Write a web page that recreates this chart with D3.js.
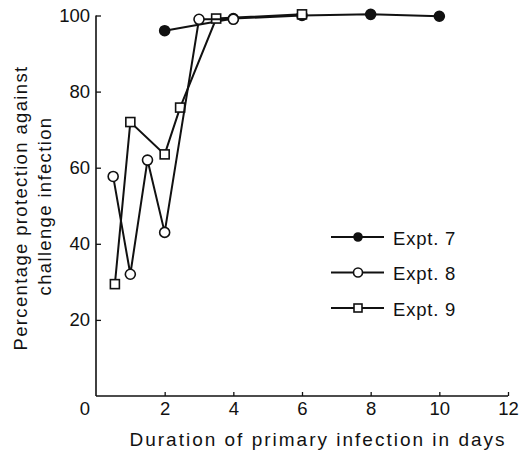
<!DOCTYPE html>
<html>
<head>
<meta charset="utf-8">
<script src="https://cdn.jsdelivr.net/npm/d3@7"></script>
<style>
  body { margin: 0; background: #fff; }
  text { font-family: "Liberation Sans", Arial, sans-serif; fill: #111; }
</style>
</head>
<body>
<div id="chart"></div>
<script>
const width = 519;
const height = 452;

// data
const expt7_days = [2, 4, 6, 8, 10];
const expt7_pct = [96, 99.2, 100, 100.3, 99.8];
const expt8_days = [0.5, 1, 1.5, 2, 3, 4];
const expt8_pct = [57.7, 32, 62, 43, 99, 99];
const expt9_days = [0.55, 1, 2, 2.45, 3.5, 6];
const expt9_pct = [29.4, 72, 63.5, 75.8, 99.2, 100.3];

const x_ticks = [2, 4, 6, 8, 10, 12];
const y_ticks = [20, 40, 60, 80, 100];
const legend_labels = ["Expt. 7", "Expt. 8", "Expt. 9"];

const svg = d3.select("#chart")
    .append("svg")
    .attr("width", width)
    .attr("height", height);

const x = d3.scaleLinear().domain([0, 12]).range([96, 508]);
const y = d3.scaleLinear().domain([0, 100]).range([396, 15.5]);

// axes - ticks point inward
const xAxis = svg.append("g")
    .attr("transform", `translate(0,${y(0)})`)
    .call(d3.axisBottom(x).tickValues(x_ticks).tickSize(-4).tickSizeOuter(0).tickPadding(6));
const yAxis = svg.append("g")
    .attr("transform", `translate(${x(0)},0)`)
    .call(d3.axisLeft(y).tickValues(y_ticks).tickSize(-5).tickSizeOuter(0).tickPadding(6));

[xAxis, yAxis].forEach(g => {
    g.select(".domain").attr("stroke", "#111").attr("stroke-width", 1.6);
    g.selectAll(".tick line").attr("stroke", "#111").attr("stroke-width", 1.3);
    g.selectAll(".tick text").attr("font-size", 18.5).attr("fill", "#111")
        .style("font-family", "'Liberation Sans', Arial, sans-serif");
});
// y axis stops at 100, x axis starts at the y axis
yAxis.select(".domain").attr("d", `M0,${y(0)}V${y(100)}`);
xAxis.select(".domain").attr("d", `M${x(0)},0H${x(12)}`);

// origin label sits left of the axis
svg.append("text")
    .attr("x", 85).attr("y", 415)
    .attr("text-anchor", "middle")
    .attr("font-size", 18.5)
    .text("0");

// axis titles
svg.append("text")
    .attr("x", 318).attr("y", 446)
    .attr("text-anchor", "middle")
    .attr("font-size", 19)
    .attr("letter-spacing", 2)
    .text("Duration of primary infection in days");

svg.append("text")
    .attr("transform", "translate(27,208) rotate(-90)")
    .attr("text-anchor", "middle")
    .attr("font-size", 18.5)
    .attr("letter-spacing", 1.35)
    .text("Percentage protection against");
svg.append("text")
    .attr("transform", "translate(51,206) rotate(-90)")
    .attr("text-anchor", "middle")
    .attr("font-size", 18.5)
    .attr("letter-spacing", 1.35)
    .text("challenge infection");

const line = d3.line()
    .x(d => x(d[0]))
    .y(d => y(d[1]));

function drawSeries(days, pct, shape) {
    const pts = d3.zip(days, pct);
    svg.append("path")
        .datum(pts)
        .attr("d", line)
        .attr("fill", "none")
        .attr("stroke", "#111")
        .attr("stroke-width", 2);
    const g = svg.append("g");
    pts.forEach(p => drawMarker(g, x(p[0]), y(p[1]), shape, 5));
}

function drawMarker(g, cx, cy, shape, r) {
    if (shape == "square") {
        g.append("rect")
            .attr("x", cx - r + 0.5).attr("y", cy - r + 0.5)
            .attr("width", 2 * r - 1).attr("height", 2 * r - 1)
            .attr("fill", "#fff").attr("stroke", "#111").attr("stroke-width", 1.6);
    } else {
        g.append("circle")
            .attr("cx", cx).attr("cy", cy).attr("r", r)
            .attr("fill", shape == "filled" ? "#111" : "#fff")
            .attr("stroke", "#111").attr("stroke-width", 1.6);
    }
}

drawSeries(expt7_days, expt7_pct, "filled");
drawSeries(expt9_days, expt9_pct, "square");
drawSeries(expt8_days, expt8_pct, "open");

// legend
const shapes = ["filled", "open", "square"];
const legend = svg.append("g");
legend_labels.forEach((lab, i) => {
    const ly = 237 + i * 35.5;
    legend.append("line")
        .attr("x1", 331).attr("x2", 384)
        .attr("y1", ly).attr("y2", ly)
        .attr("stroke", "#111").attr("stroke-width", 2);
    drawMarker(legend, 358, ly, shapes[i], shapes[i] == "filled" ? 4 : 4.5);
    legend.append("text")
        .attr("x", 393).attr("y", ly + 7.5)
        .attr("font-size", 18.5)
        .attr("letter-spacing", 0.8)
        .text(lab);
});
</script>
</body>
</html>
